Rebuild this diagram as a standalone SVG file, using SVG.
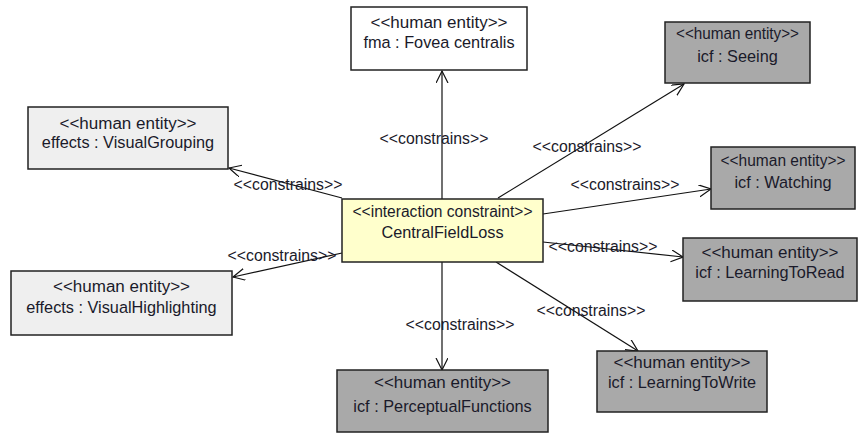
<svg xmlns="http://www.w3.org/2000/svg" width="858" height="434" viewBox="0 0 858 434">
<style>
.box{stroke:#222;stroke-width:1.5}
.white{fill:#ffffff}
.light{fill:#efefef}
.dark{fill:#a9a9a9}
.yellow{fill:#ffffcc}
text{font-family:"Liberation Sans",Arial,sans-serif;fill:#1a1a2a;text-anchor:middle}
.st{font-size:16px}
.nm{font-size:16.3px}
.lbl{font-size:15.8px;fill:#1a1a2a}
.edge{stroke:#111;stroke-width:1.2;fill:none;marker-end:url(#arr)}
</style>
<defs>
<marker id="arr" markerUnits="userSpaceOnUse" markerWidth="14" markerHeight="14" refX="12" refY="6" orient="auto">
<path d="M0,0 L12,6 L0,12" fill="none" stroke="#111" stroke-width="1.2"/>
</marker>
</defs>
<rect width="858" height="434" fill="#ffffff"/>
<g id="connectors">
<line class="edge" x1="442" y1="199" x2="442" y2="71"/>
<line class="edge" x1="498" y1="198" x2="684" y2="84"/>
<line class="edge" x1="342" y1="198" x2="229" y2="168"/>
<line class="edge" x1="342" y1="253" x2="233" y2="277"/>
<line class="edge" x1="543" y1="214" x2="711" y2="189"/>
<line class="edge" x1="543" y1="242" x2="683" y2="257"/>
<line class="edge" x1="442" y1="262" x2="442" y2="370"/>
<line class="edge" x1="496" y1="262" x2="638" y2="351"/>
<text class="lbl" x="434" y="144">&lt;&lt;constrains&gt;&gt;</text>
<text class="lbl" x="587" y="152">&lt;&lt;constrains&gt;&gt;</text>
<text class="lbl" x="288" y="190">&lt;&lt;constrains&gt;&gt;</text>
<text class="lbl" x="625" y="190">&lt;&lt;constrains&gt;&gt;</text>
<text class="lbl" x="282" y="261">&lt;&lt;constrains&gt;&gt;</text>
<text class="lbl" x="603" y="252">&lt;&lt;constrains&gt;&gt;</text>
<text class="lbl" x="460" y="330">&lt;&lt;constrains&gt;&gt;</text>
<text class="lbl" x="591" y="316">&lt;&lt;constrains&gt;&gt;</text>
</g>
<g id="fovea">
<rect class="box white" x="351" y="7" width="176" height="63"/>
<text class="st" x="439" y="28" textLength="137" lengthAdjust="spacingAndGlyphs">&lt;&lt;human entity&gt;&gt;</text>
<text class="nm" x="439" y="48">fma : Fovea centralis</text>
</g>
<g id="seeing">
<rect class="box dark" x="665" y="22" width="145" height="61"/>
<text class="st" x="737.5" y="39" textLength="123" lengthAdjust="spacingAndGlyphs">&lt;&lt;human entity&gt;&gt;</text>
<text class="nm" x="737.5" y="62">icf : Seeing</text>
</g>
<g id="visualgrouping">
<rect class="box light" x="28" y="107" width="200" height="62"/>
<text class="st" x="128" y="129" textLength="137" lengthAdjust="spacingAndGlyphs">&lt;&lt;human entity&gt;&gt;</text>
<text class="nm" x="128" y="148">effects : VisualGrouping</text>
</g>
<g id="centralfieldloss">
<rect class="box yellow" x="342" y="199" width="201" height="63"/>
<text class="st" x="442.5" y="217" textLength="180" lengthAdjust="spacingAndGlyphs">&lt;&lt;interaction constraint&gt;&gt;</text>
<text class="nm" x="442.5" y="238">CentralFieldLoss</text>
</g>
<g id="visualhighlighting">
<rect class="box light" x="11" y="271" width="221" height="64"/>
<text class="st" x="121.5" y="292" textLength="137" lengthAdjust="spacingAndGlyphs">&lt;&lt;human entity&gt;&gt;</text>
<text class="nm" x="121.5" y="313">effects : VisualHighlighting</text>
</g>
<g id="watching">
<rect class="box dark" x="711" y="147" width="144" height="62"/>
<text class="st" x="783" y="166" textLength="125" lengthAdjust="spacingAndGlyphs">&lt;&lt;human entity&gt;&gt;</text>
<text class="nm" x="783" y="188">icf : Watching</text>
</g>
<g id="learningtoread">
<rect class="box dark" x="683" y="238" width="174" height="63"/>
<text class="st" x="770" y="258" textLength="137" lengthAdjust="spacingAndGlyphs">&lt;&lt;human entity&gt;&gt;</text>
<text class="nm" x="770" y="278">icf : LearningToRead</text>
</g>
<g id="perceptualfunctions">
<rect class="box dark" x="337" y="370" width="211" height="62"/>
<text class="st" x="442.5" y="388" textLength="137" lengthAdjust="spacingAndGlyphs">&lt;&lt;human entity&gt;&gt;</text>
<text class="nm" x="442.5" y="412">icf : PerceptualFunctions</text>
</g>
<g id="learningtowrite">
<rect class="box dark" x="597" y="351" width="170" height="61"/>
<text class="st" x="682" y="368" textLength="137" lengthAdjust="spacingAndGlyphs">&lt;&lt;human entity&gt;&gt;</text>
<text class="nm" x="682" y="388">icf : LearningToWrite</text>
</g>
</svg>
